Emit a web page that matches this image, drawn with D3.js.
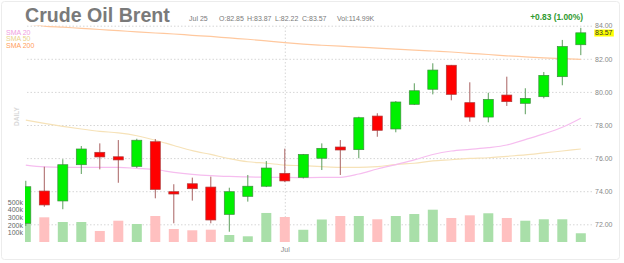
<!DOCTYPE html>
<html>
<head>
<meta charset="utf-8">
<script src="https://cdn.jsdelivr.net/npm/d3@7"></script>
<style>
  body { margin: 0; background: #fff; }
  text { font-family: "Liberation Sans", Arial, sans-serif; }
</style>
</head>
<body>
<svg id="chart" width="624" height="263"></svg>
<script>
// daily candles, Brent crude, mid June -> Jul 25
const dates = ["2023-06-13","2023-06-14","2023-06-15","2023-06-16","2023-06-19","2023-06-20","2023-06-21",
  "2023-06-22","2023-06-23","2023-06-26","2023-06-27","2023-06-28","2023-06-29","2023-06-30",
  "2023-07-03","2023-07-04","2023-07-05","2023-07-06","2023-07-07","2023-07-10","2023-07-11",
  "2023-07-12","2023-07-13","2023-07-14","2023-07-17","2023-07-18","2023-07-19","2023-07-20",
  "2023-07-21","2023-07-24","2023-07-25"];
const open  = [72.06,74.01,73.41,75.60,76.35,76.08,75.50,76.99,73.97,74.45,74.25,72.60,73.69,74.30,75.08,74.84,
  75.99,76.67,76.51,78.54,77.76,79.25,80.16,81.61,79.35,78.48,79.81,79.31,79.71,80.92,82.85];
const high  = [74.63,75.48,75.93,76.73,76.89,77.09,77.17,77.15,74.42,74.82,74.88,74.21,74.98,75.82,76.57,76.25,
  76.89,77.09,78.50,78.71,79.45,80.52,81.73,81.63,80.58,79.95,80.92,80.22,81.20,83.14,83.87];
const low   = [71.90,73.06,72.91,75.04,75.32,74.51,75.40,73.57,72.06,73.43,72.06,71.55,73.37,74.25,74.55,74.77,
  75.28,74.98,75.99,77.29,77.56,79.21,79.85,79.49,78.20,78.16,79.15,78.65,79.61,80.40,82.22];
const close = [74.27,73.17,75.60,76.55,76.07,75.89,77.08,74.11,73.83,74.15,72.26,73.97,74.30,75.40,74.62,76.22,
  76.59,76.49,78.44,77.68,79.39,80.07,81.32,79.85,78.48,79.55,79.41,79.61,81.00,82.74,83.57];
// volume in thousands
const volume = [246,325,263,263,145,280,237,342,171,154,162,92,75,382,329,161,296,342,342,299,342,368,425,316,
  351,378,316,280,299,299,114.99];
const sma20 = [75.58,75.47,75.44,75.44,75.44,75.44,75.38,75.31,75.14,75.02,74.94,74.89,74.86,74.84,74.83,74.82,
  74.83,74.84,75.04,75.34,75.61,75.89,76.22,76.43,76.53,76.63,76.79,77.12,77.46,77.86,78.41];
const sma50 = [78.30,78.10,77.92,77.76,77.62,77.52,77.35,77.08,76.76,76.45,76.22,75.97,75.78,75.69,75.58,75.54,
  75.48,75.44,75.44,75.49,75.61,75.69,75.83,75.90,75.98,76.02,76.11,76.19,76.31,76.43,76.55];
const sma200 = [84.12,83.98,83.91,83.84,83.77,83.70,83.63,83.56,83.50,83.42,83.35,83.26,83.18,83.08,82.98,82.89,
  82.82,82.76,82.71,82.64,82.58,82.53,82.47,82.41,82.33,82.26,82.18,82.12,82.06,82.01,81.97];
const priceTicks = [72, 74, 76, 78, 80, 82, 84];
const volTicks = [100, 200, 300, 400, 500];
const headerItems = ["Jul 25", "O:82.85", "H:83.87", "L:82.22", "C:83.57", "Vol:114.99K"];
const smaNames = ["SMA 20", "SMA 50", "SMA 200"];

const svg = d3.select("#chart");
const plotL = 25, plotR = 592, plotT = 25.7, volBase = 242;
const upFill = "#00f000", downFill = "#ff0000";
const FONT = "Liberation Sans, Arial, sans-serif";

const x = d3.scalePoint().domain(dates).range([25.8, 580.8]);
const y = d3.scaleLinear().domain([72, 84]).range([224.3, plotT]);
const yv = d3.scaleLinear().domain([0, 500]).range([volBase, 204]);

// panel
svg.append("rect")
  .attr("x", 1.5).attr("y", 1.5).attr("width", 618).attr("height", 258).attr("rx", 3)
  .attr("fill", "#fff").attr("stroke", "#ececec");

// price axis + grid
svg.append("g")
  .attr("transform", `translate(${plotR},0)`)
  .call(d3.axisRight(y).tickValues(priceTicks).tickSize(-(plotR - plotL)).tickPadding(3).tickFormat(d3.format(".2f")))
  .call(g => {
    g.select(".domain").remove();
    g.selectAll("line").attr("stroke", "#d6d6d6").attr("stroke-dasharray", "1.5,2");
    g.selectAll("text").attr("fill", "#888").attr("font-size", 7).attr("font-family", FONT);
  });

// x axis (only month marker)
const julFirst = dates.find(d => d.slice(5, 7) === "07");
svg.append("g")
  .attr("transform", `translate(0,${volBase})`)
  .call(d3.axisBottom(x).tickValues([julFirst]).tickSize(-(volBase - plotT)).tickPadding(5).tickFormat(() => "Jul"))
  .call(g => {
    g.select(".domain").remove();
    g.selectAll("line").attr("stroke", "#d6d6d6").attr("stroke-dasharray", "1.5,2");
    g.selectAll("text").attr("fill", "#888").attr("font-size", 7).attr("font-family", FONT);
  });

// clip for plot area
svg.append("clipPath").attr("id", "plot")
  .append("rect").attr("x", plotL).attr("y", plotT - 0.3).attr("width", plotR - plotL).attr("height", volBase - plotT + 1);

const plot = svg.append("g").attr("clip-path", "url(#plot)");

const isUp = i => close[i] >= open[i];

// volume bars
plot.append("g").selectAll("rect")
  .data(volume)
  .join("rect")
  .attr("x", (v, i) => x(dates[i]) - 5)
  .attr("y", v => yv(v))
  .attr("width", 10)
  .attr("height", v => volBase - yv(v))
  .attr("fill", (v, i) => isUp(i) ? "#a9dfa9" : "#ffc0c0");

// volume labels
svg.append("g")
  .attr("transform", `translate(${plotL},0)`)
  .call(d3.axisLeft(yv).tickValues(volTicks).tickSize(0).tickPadding(2).tickFormat(d => d + "k"))
  .call(g => {
    g.select(".domain").remove();
    g.selectAll("text").attr("y", -2).attr("fill", "#666").attr("font-size", 7).attr("font-family", FONT);
  });

// moving averages
const line = d3.line().x((v, i) => x(dates[i])).y(v => y(v)).curve(d3.curveMonotoneX);
[[sma200, "#ffc89e"], [sma50, "#f6e2b8"], [sma20, "#f6bdef"]].forEach(([s, c]) => {
  plot.append("path").datum(s).attr("fill", "none").attr("stroke", c).attr("stroke-width", 1.2).attr("d", line);
});

// candles
const candles = plot.append("g").selectAll("g")
  .data(dates)
  .join("g");
candles.append("line")
  .attr("x1", d => x(d)).attr("x2", d => x(d))
  .attr("y1", (d, i) => y(high[i])).attr("y2", (d, i) => y(low[i]))
  .attr("stroke", (d, i) => isUp(i) ? "#5c9e5c" : "#a86262")
  .attr("stroke-width", 1);
candles.append("rect")
  .attr("x", d => x(d) - 5)
  .attr("y", (d, i) => y(Math.max(open[i], close[i])))
  .attr("width", 10)
  .attr("height", (d, i) => Math.max(1.5, Math.abs(y(open[i]) - y(close[i]))))
  .attr("fill", (d, i) => isUp(i) ? upFill : downFill)
  .attr("stroke", (d, i) => isUp(i) ? "#3e8e3e" : "#b03a3a")
  .attr("stroke-width", 0.7);

// last close marker
const last = close[close.length - 1];
svg.append("rect")
  .attr("x", plotR + 2.3).attr("y", y(last) - 3.3).attr("width", 19.5).attr("height", 7)
  .attr("fill", "#ffff00");
svg.append("text")
  .attr("x", plotR + 3).attr("y", y(last)).attr("dy", "0.34em")
  .attr("font-size", 7).attr("fill", "#333")
  .text(last.toFixed(2));

// title + header
svg.append("text")
  .attr("x", 25).attr("y", 21.5)
  .attr("font-size", 19.6).attr("font-weight", "bold").attr("fill", "#7a7a7a")
  .text("Crude Oil Brent");

const headerX = [189, 219, 247, 275, 302, 337];
svg.append("g").selectAll("text")
  .data(headerItems)
  .join("text")
  .attr("x", (d, i) => headerX[i]).attr("y", 20.5)
  .attr("font-size", 7).attr("fill", "#7a7a7a")
  .text(d => d);

const chg = last - close[close.length - 2];
svg.append("text")
  .attr("x", 583).attr("y", 20).attr("text-anchor", "end")
  .attr("font-size", 8.4).attr("font-weight", "bold").attr("fill", "#2f9a2f")
  .text(`+${chg.toFixed(2)} (${(chg / close[close.length - 2] * 100).toFixed(2)}%)`);

// legend
const smaColors = ["#f09ee2", "#ead28e", "#ffa060"];
svg.append("g").selectAll("text")
  .data(smaNames)
  .join("text")
  .attr("x", 6).attr("y", (d, i) => 34.6 + i * 6.8)
  .attr("font-size", 7).attr("fill", (d, i) => smaColors[i])
  .text(d => d);

// DAILY tag
svg.append("text")
  .attr("transform", "translate(19,116.5) rotate(-90)")
  .attr("text-anchor", "middle")
  .attr("font-size", 6.5).attr("font-weight", "bold").attr("fill", "#d8d8d8")
  .text("DAILY");
</script>
</body>
</html>
